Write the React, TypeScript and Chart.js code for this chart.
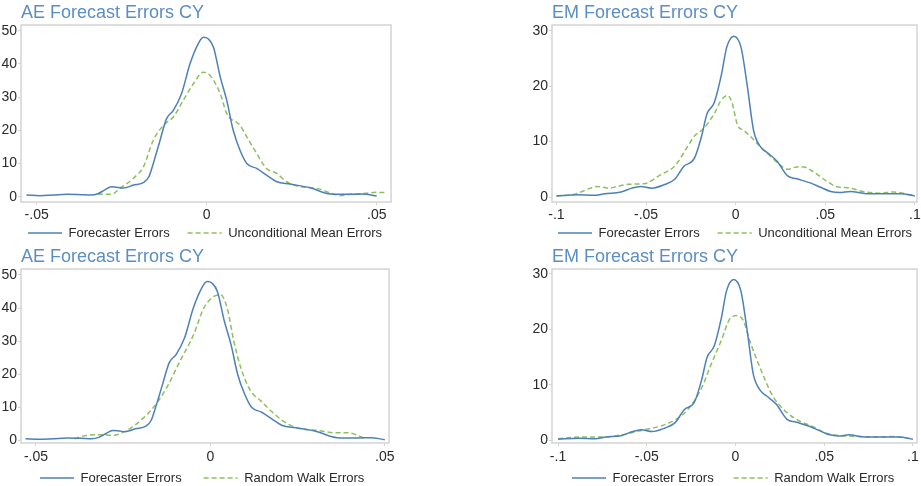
import React, { useEffect, useRef } from "react";
import { Chart, registerables } from "chart.js";

Chart.register(...registerables);

// ---------- DATA ----------
// AE: forecaster errors density
const aeFcX = [-0.053, -0.049, -0.045, -0.041, -0.037, -0.034, -0.032, -0.03, -0.028, -0.026, -0.0245, -0.0215, -0.0185, -0.017, -0.0157, -0.0137, -0.0118, -0.0098, -0.0074, -0.0049, -0.0025, -0.001, 0.0005, 0.002, 0.004, 0.0059, 0.0078, 0.0098, 0.0118, 0.0147, 0.0176, 0.0206, 0.0245, 0.0304, 0.0363, 0.042, 0.046, 0.05];
const aeFcY = [0.5, 0.3, 0.5, 0.7, 0.6, 0.5, 0.9, 2.0, 3.0, 2.8, 2.6, 3.5, 4.3, 6.0, 10, 17, 23.5, 26, 31, 40, 46, 48, 47.5, 45, 36, 29, 20, 14, 10, 8.5, 6.5, 4.5, 3.8, 2.7, 0.8, 0.7, 0.8, 0.2];

// AE: unconditional mean errors density
const aeUmX = [-0.032, -0.028, -0.0255, -0.0216, -0.0186, -0.0157, -0.0127, -0.0098, -0.0069, -0.0039, -0.001, 0.001, 0.004, 0.0059, 0.0098, 0.0118, 0.0147, 0.0176, 0.0206, 0.0235, 0.0275, 0.0324, 0.0373, 0.0392, 0.043, 0.047, 0.05, 0.053];
const aeUmY = [0.8, 0.7, 2.5, 5.5, 9, 17, 21.5, 24, 29, 34, 37.5, 36.5, 31, 25, 21.5, 18, 13, 8.5, 7, 4.5, 3, 2.5, 0.8, 0.3, 0.8, 1.0, 1.3, 1.2];

// AE: random walk errors density
const aeRwX = [-0.039, -0.0356, -0.0317, -0.0279, -0.024, -0.02, -0.0163, -0.0125, -0.0087, -0.0048, -0.0019, 0.001, 0.0029, 0.0048, 0.0067, 0.0087, 0.0115, 0.0144, 0.0183, 0.0221, 0.026, 0.0308, 0.0356, 0.0394, 0.0433, 0.0442];
const aeRwY = [0.5, 1.5, 1.7, 1.5, 3, 6, 10, 16, 24, 32, 40, 43.5, 44, 40, 30, 22, 15, 12, 8, 5, 3.5, 3, 2.3, 2.3, 1.0, 0.5];

// EM: forecaster errors density
const emFcX = [-0.1, -0.088, -0.079, -0.073, -0.064, -0.058, -0.053, -0.047, -0.04, -0.034, -0.029, -0.023, -0.019, -0.016, -0.012, -0.008, -0.005, -0.001, 0.003, 0.0065, 0.01, 0.014, 0.0176, 0.023, 0.029, 0.034, 0.042, 0.047, 0.053, 0.058, 0.064, 0.073, 0.084, 0.092, 0.1];
const emFcY = [0.2, 0.4, 0.3, 0.6, 0.9, 1.6, 1.9, 1.6, 2.2, 3.2, 5.5, 7, 11, 15, 17, 22, 27, 29, 27, 20, 12, 9, 8, 6.5, 3.8, 3.3, 2.5, 1.8, 1.0, 0.8, 1.0, 0.6, 0.6, 0.6, 0.2];

// EM: unconditional mean errors density
const emUmX = [-0.1, -0.09, -0.081, -0.077, -0.071, -0.066, -0.06, -0.051, -0.042, -0.034, -0.027, -0.023, -0.018, -0.012, -0.008, -0.0046, -0.002, 0.001, 0.0046, 0.008, 0.014, 0.019, 0.025, 0.029, 0.034, 0.038, 0.0435, 0.051, 0.056, 0.064, 0.071, 0.081, 0.088, 0.1];
const emUmY = [0.2, 0.5, 1.6, 1.9, 1.6, 1.9, 2.3, 2.4, 4, 5.6, 9, 11, 12.3, 15, 17.5, 18.3, 17, 13, 12, 11, 9, 7.5, 5.7, 5, 5.4, 5.4, 4.5, 2.8, 1.9, 1.6, 1.0, 0.7, 0.9, 0.2];

// EM: random walk errors density
const emRwX = [-0.1, -0.088, -0.075, -0.064, -0.053, -0.042, -0.034, -0.027, -0.019, -0.014, -0.008, -0.003, 0.001, 0.0046, 0.008, 0.014, 0.021, 0.029, 0.036, 0.0435, 0.051, 0.058, 0.069, 0.079, 0.088, 0.1];
const emRwY = [0.3, 0.6, 0.6, 1.0, 1.8, 2.6, 3.7, 5.5, 9.5, 13.5, 18, 22, 22.5, 21.5, 18, 13, 8, 5, 3.5, 2.5, 1.3, 0.9, 0.7, 0.6, 0.7, 0.3];

// Tick values and labels
const aeXTicks = [-0.05, 0, 0.05];
const aeXTickLabels = ["-.05", "0", ".05"];
const emXTicks = [-0.1, -0.05, 0, 0.05, 0.1];
const emXTickLabels = ["-.1", "-.05", "0", ".05", ".1"];
const aeYTicks = [0, 10, 20, 30, 40, 50];
const emYTicks = [0, 10, 20, 30];

const titleAE = "AE Forecast Errors CY";
const titleEM = "EM Forecast Errors CY";
const nameFc = "Forecaster Errors";
const nameUm = "Unconditional Mean Errors";
const nameRw = "Random Walk Errors";

// ---------- STYLE ----------
const FONT = "'Liberation Sans', Arial, Helvetica, sans-serif";
const BLUE = "#4d80b9";
const GREEN = "#8cc05c";
const TITLE_COLOR = "#5b8ec2";
const FRAME = "#d4d4d4";
const TEXT = "#2a2a2a";

type Series = { label: string; x: number[]; y: number[]; color: string; dash: number[] };
type PanelCfg = {
  left: number; top: number; width: number; height: number;
  yW: number; rightGap: number; xH: number; legendPad: number; xTickPad: number;
  legendX: number; legendY: number;
  xMin: number; xMax: number; yMin: number; yMax: number;
  xTicks: number[]; xLabels: string[]; yTicks: number[];
  title: string; series: Series[];
};

const fc = (x: number[], y: number[]): Series => ({ label: nameFc, x, y, color: BLUE, dash: [] });
const cmp = (label: string, x: number[], y: number[]): Series => ({ label, x, y, color: GREEN, dash: [5, 3] });

const panels: PanelCfg[] = [
  {
    left: 0, top: 0, width: 480, height: 263, yW: 21, rightGap: 89, xH: 20, legendPad: 18, xTickPad: 2,
    legendX: 28, legendY: 233,
    xMin: -0.0546, xMax: 0.0542, yMin: -1.6, yMax: 51.7,
    xTicks: aeXTicks, xLabels: aeXTickLabels, yTicks: aeYTicks, title: titleAE,
    series: [fc(aeFcX, aeFcY), cmp(nameUm, aeUmX, aeUmY)],
  },
  {
    left: 480, top: 0, width: 450, height: 263, yW: 72, rightGap: 13, xH: 20, legendPad: 18, xTickPad: 2,
    legendX: 558, legendY: 233,
    xMin: -0.1025, xMax: 0.1012, yMin: -0.9, yMax: 31.03,
    xTicks: emXTicks, xLabels: emXTickLabels, yTicks: emYTicks, title: titleEM,
    series: [fc(emFcX, emFcY), cmp(nameUm, emUmX, emUmY)],
  },
  {
    left: 0, top: 244, width: 480, height: 264, yW: 21, rightGap: 91, xH: 20, legendPad: 22, xTickPad: 3,
    legendX: 40, legendY: 478,
    xMin: -0.0543, xMax: 0.0512, yMin: -0.8, yMax: 51.8,
    xTicks: aeXTicks, xLabels: aeXTickLabels, yTicks: aeYTicks, title: titleAE,
    series: [fc(aeFcX, aeFcY), cmp(nameRw, aeRwX, aeRwY)],
  },
  {
    left: 480, top: 244, width: 450, height: 262, yW: 72, rightGap: 13, xH: 20, legendPad: 20, xTickPad: 3,
    legendX: 572, legendY: 478,
    xMin: -0.1034, xMax: 0.1023, yMin: -0.47, yMax: 30.9,
    xTicks: emXTicks, xLabels: emXTickLabels, yTicks: emYTicks, title: titleEM,
    series: [fc(emFcX, emFcY), cmp(nameRw, emRwX, emRwY)],
  },
];

const framePlugin = {
  id: "frameBox",
  beforeDatasetsDraw(chart: any) {
    const { ctx, chartArea: a } = chart;
    ctx.save();
    ctx.strokeStyle = FRAME;
    ctx.lineWidth = 1.5;
    ctx.strokeRect(a.left, a.top, a.right - a.left, a.bottom - a.top);
    ctx.restore();
  },
};

function Panel({ cfg }: { cfg: PanelCfg }) {
  const ref = useRef<HTMLCanvasElement>(null);
  useEffect(() => {
    const findLabel = (vals: number[], labels: string[], v: number) => {
      const i = vals.findIndex((t) => Math.abs(t - v) < 1e-9);
      return i >= 0 ? labels[i] : "";
    };
    const legendPlace = {
      id: "legendPlace",
      afterLayout(chart: any) {
        const lg = chart.legend;
        if (!lg) return;
        const h = lg.height;
        const left = cfg.legendX - cfg.left - cfg.legendPad;
        const top = cfg.legendY - cfg.top - cfg.legendPad - 6.5;
        lg.left = left;
        lg.right = left + cfg.width;
        lg.top = top;
        lg.bottom = top + h;
      },
    };
    const chart = new Chart(ref.current as HTMLCanvasElement, {
      type: "line",
      data: {
        datasets: cfg.series.map((s) => ({
          label: s.label,
          data: s.x.map((x, i) => ({ x, y: s.y[i] })),
          borderColor: s.color,
          backgroundColor: s.color,
          borderWidth: 1.5,
          borderDash: s.dash,
          pointRadius: 0,
          fill: false,
          cubicInterpolationMode: "monotone" as const,
        })),
      },
      options: {
        responsive: false,
        animation: false,
        devicePixelRatio: 1,
        layout: { padding: 0 },
        plugins: {
          title: {
            display: true,
            text: cfg.title,
            align: "start",
            fullSize: false,
            color: TITLE_COLOR,
            font: { family: FONT, size: 18, weight: "normal", lineHeight: 1.2 },
            padding: { top: 2, bottom: 1.4 },
          },
          legend: {
            position: "bottom",
            align: "start",
            fullSize: true,
            labels: {
              usePointStyle: true,
              pointStyle: "line",
              pointStyleWidth: 34,
              boxHeight: 13,
              padding: cfg.legendPad,
              color: TEXT,
              font: { family: FONT, size: 13 },
              generateLabels: (chart: any) => {
                const items = Chart.defaults.plugins.legend.labels.generateLabels(chart);
                return items.map((it: any) => {
                  const ds = chart.data.datasets[it.datasetIndex];
                  return {
                    ...it,
                    lineDash: ds.borderDash,
                    strokeStyle: ds.borderColor,
                    fillStyle: ds.borderColor,
                    lineWidth: 1.5,
                    pointStyle: "line",
                  };
                });
              },
            },
          },
          tooltip: { enabled: false },
        },
        scales: {
          x: {
            type: "linear",
            min: cfg.xMin,
            max: cfg.xMax,
            afterFit: (s: any) => { s.height = cfg.xH; },
            afterBuildTicks: (s: any) => { s.ticks = cfg.xTicks.map((v) => ({ value: v })); },
            ticks: {
              autoSkip: false,
              maxRotation: 0,
              padding: cfg.xTickPad,
              color: TEXT,
              font: { family: FONT, size: 14 },
              callback: (v: any) => findLabel(cfg.xTicks, cfg.xLabels, Number(v)),
            },
            grid: { drawOnChartArea: false, tickLength: 3, color: FRAME, lineWidth: 1 },
            border: { display: false },
          },
          y: {
            type: "linear",
            position: "left",
            min: cfg.yMin,
            max: cfg.yMax,
            afterFit: (s: any) => { s.width = cfg.yW; },
            afterBuildTicks: (s: any) => { s.ticks = cfg.yTicks.map((v) => ({ value: v })); },
            ticks: {
              autoSkip: false,
              padding: 1,
              color: TEXT,
              font: { family: FONT, size: 14 },
              callback: (v: any) => String(v),
            },
            grid: { drawOnChartArea: false, tickLength: 3, color: FRAME, lineWidth: 1 },
            border: { display: false },
          },
          yGap: {
            type: "linear",
            position: "right",
            min: 0,
            max: 1,
            afterFit: (s: any) => { s.width = cfg.rightGap; },
            ticks: { display: false },
            grid: { display: false },
            border: { display: false },
          },
        },
      } as any,
      plugins: [framePlugin, legendPlace],
    });
    return () => chart.destroy();
  }, [cfg]);
  return (
    <canvas
      ref={ref}
      width={cfg.width}
      height={cfg.height}
      style={{ position: "absolute", left: cfg.left, top: cfg.top, width: cfg.width, height: cfg.height }}
    />
  );
}

export default function App() {
  return (
    <div
      style={{
        position: "fixed",
        left: 0,
        top: 0,
        width: 921,
        height: 486,
        overflow: "hidden",
        background: "#ffffff",
      }}
    >
      {panels.map((p, i) => (
        <Panel key={i} cfg={p} />
      ))}
    </div>
  );
}
